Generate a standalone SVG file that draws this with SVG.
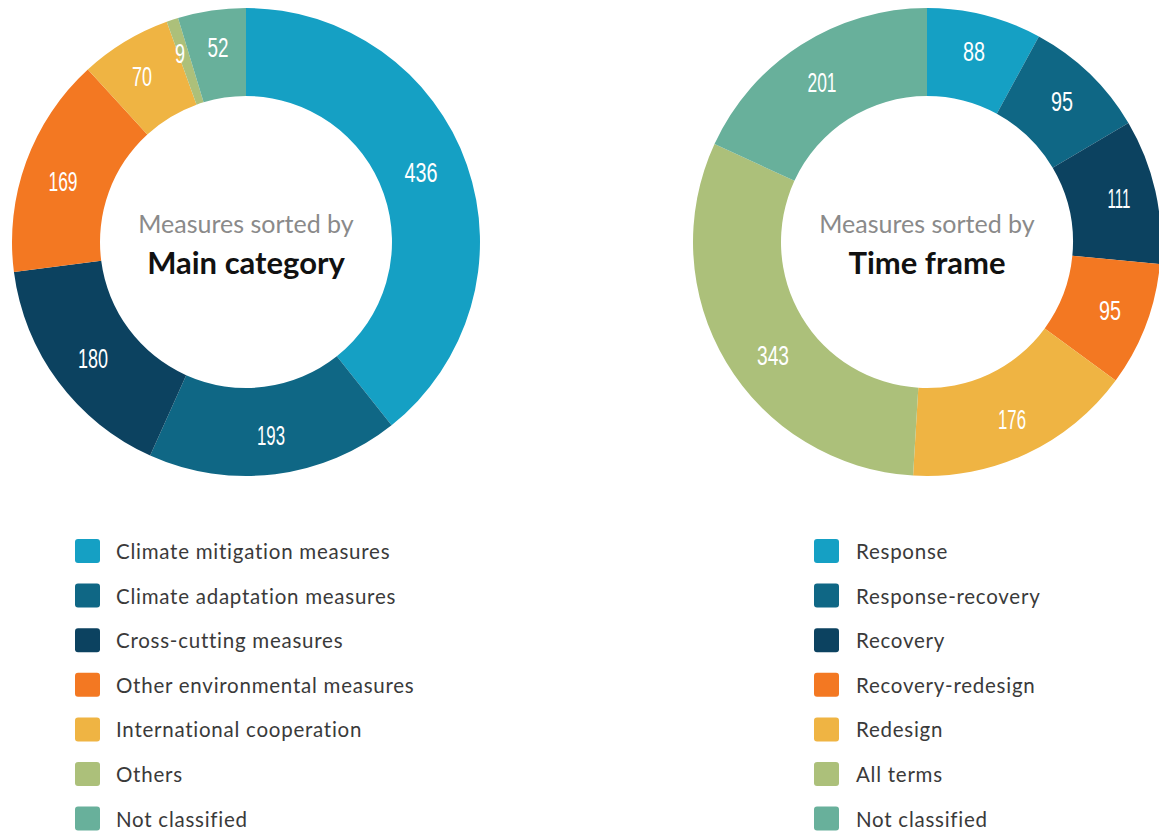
<svg xmlns="http://www.w3.org/2000/svg" width="1159" height="832" viewBox="0 0 1159 832">
<style>
.c1{fill:#15a0c4}.c2{fill:#0f6785}.c3{fill:#0c4260}.c4{fill:#f37822}.c5{fill:#efb443}.c6{fill:#acc07a}.c7{fill:#68b09b}
.v{font-family:"Liberation Sans",Arial,sans-serif;font-size:28px;fill:#ffffff;text-anchor:middle}
.sub{font-family:Lato,"Noto Sans",sans-serif;font-size:25px;fill:#8a8a8a;text-anchor:middle}
.ttl{font-family:Lato,"Noto Sans",sans-serif;font-size:31px;font-weight:700;fill:#111111;text-anchor:middle}
.lg{font-family:Lato,"Noto Sans",sans-serif;font-size:20.5px;letter-spacing:0.75px;fill:#3a3a3a}
</style>
<rect width="1159" height="832" fill="#ffffff"/>
<g id="chart-main-category">
<path class="c1" d="M246,8 A234,234 0 0 1 391.56,425.21 L336.82,356.31 A146,146 0 0 0 246,96 Z"/>
<path class="c2" d="M391.56,425.21 A234,234 0 0 1 150.14,455.46 L186.19,375.19 A146,146 0 0 0 336.82,356.31 Z"/>
<path class="c3" d="M150.14,455.46 A234,234 0 0 1 13.94,272.08 L101.21,260.77 A146,146 0 0 0 186.19,375.19 Z"/>
<path class="c4" d="M13.94,272.08 A234,234 0 0 1 87.83,69.54 L147.31,134.40 A146,146 0 0 0 101.21,260.77 Z"/>
<path class="c5" d="M87.83,69.54 A234,234 0 0 1 166.73,21.84 L196.54,104.63 A146,146 0 0 0 147.31,134.40 Z"/>
<path class="c6" d="M166.73,21.84 A234,234 0 0 1 178.05,18.08 L203.61,102.29 A146,146 0 0 0 196.54,104.63 Z"/>
<path class="c7" d="M178.05,18.08 A234,234 0 0 1 246,8 L246,96 A146,146 0 0 0 203.61,102.29 Z"/>
<text class="v" x="421" y="182" textLength="33" lengthAdjust="spacingAndGlyphs">436</text>
<text class="v" x="271" y="445" textLength="28" lengthAdjust="spacingAndGlyphs">193</text>
<text class="v" x="93" y="368" textLength="30" lengthAdjust="spacingAndGlyphs">180</text>
<text class="v" x="63" y="191" textLength="29" lengthAdjust="spacingAndGlyphs">169</text>
<text class="v" x="142" y="86" textLength="20" lengthAdjust="spacingAndGlyphs">70</text>
<text class="v" x="180" y="63" textLength="10" lengthAdjust="spacingAndGlyphs">9</text>
<text class="v" x="218" y="57" textLength="21" lengthAdjust="spacingAndGlyphs">52</text>
<text class="sub" x="246" y="233">Measures sorted by</text>
<text class="ttl" x="246" y="274">Main category</text>
</g>
<g id="chart-time-frame">
<path class="c1" d="M927,8 A234,234 0 0 1 1038.89,36.49 L996.81,113.77 A146,146 0 0 0 927,96 Z"/>
<path class="c2" d="M1038.89,36.49 A234,234 0 0 1 1128.44,122.90 L1052.68,167.69 A146,146 0 0 0 996.81,113.77 Z"/>
<path class="c3" d="M1128.44,122.90 A234,234 0 0 1 1159.95,264.18 L1072.34,255.84 A146,146 0 0 0 1052.68,167.69 Z"/>
<path class="c4" d="M1159.95,264.18 A234,234 0 0 1 1115.65,380.46 L1044.70,328.39 A146,146 0 0 0 1072.34,255.84 Z"/>
<path class="c5" d="M1115.65,380.46 A234,234 0 0 1 913.09,475.59 L918.32,387.74 A146,146 0 0 0 1044.70,328.39 Z"/>
<path class="c6" d="M913.09,475.59 A234,234 0 0 1 714.50,144.02 L794.41,180.87 A146,146 0 0 0 918.32,387.74 Z"/>
<path class="c7" d="M714.50,144.02 A234,234 0 0 1 927,8 L927,96 A146,146 0 0 0 794.41,180.87 Z"/>
<text class="v" x="974" y="61" textLength="22" lengthAdjust="spacingAndGlyphs">88</text>
<text class="v" x="1062" y="111" textLength="22" lengthAdjust="spacingAndGlyphs">95</text>
<text class="v" x="1119" y="208" textLength="23" lengthAdjust="spacingAndGlyphs">111</text>
<text class="v" x="1110" y="320" textLength="22" lengthAdjust="spacingAndGlyphs">95</text>
<text class="v" x="1012" y="429" textLength="28" lengthAdjust="spacingAndGlyphs">176</text>
<text class="v" x="773" y="365" textLength="32" lengthAdjust="spacingAndGlyphs">343</text>
<text class="v" x="822" y="92" textLength="29" lengthAdjust="spacingAndGlyphs">201</text>
<text class="sub" x="927" y="233">Measures sorted by</text>
<text class="ttl" x="927" y="274">Time frame</text>
</g>
<g id="legend-main-category">
<rect class="c1" x="75" y="539" width="25" height="24" rx="3"/><text class="lg" x="116" y="559">Climate mitigation measures</text>
<rect class="c2" x="75" y="583.6" width="25" height="24" rx="3"/><text class="lg" x="116" y="603.6">Climate adaptation measures</text>
<rect class="c3" x="75" y="628.2" width="25" height="24" rx="3"/><text class="lg" x="116" y="648.2">Cross-cutting measures</text>
<rect class="c4" x="75" y="672.8" width="25" height="24" rx="3"/><text class="lg" x="116" y="692.8">Other environmental measures</text>
<rect class="c5" x="75" y="717.4" width="25" height="24" rx="3"/><text class="lg" x="116" y="737.4">International cooperation</text>
<rect class="c6" x="75" y="762" width="25" height="24" rx="3"/><text class="lg" x="116" y="782">Others</text>
<rect class="c7" x="75" y="806.6" width="25" height="24" rx="3"/><text class="lg" x="116" y="826.6">Not classified</text>
</g>
<g id="legend-time-frame">
<rect class="c1" x="814" y="539" width="25" height="24" rx="3"/><text class="lg" x="856" y="559">Response</text>
<rect class="c2" x="814" y="583.6" width="25" height="24" rx="3"/><text class="lg" x="856" y="603.6">Response-recovery</text>
<rect class="c3" x="814" y="628.2" width="25" height="24" rx="3"/><text class="lg" x="856" y="648.2">Recovery</text>
<rect class="c4" x="814" y="672.8" width="25" height="24" rx="3"/><text class="lg" x="856" y="692.8">Recovery-redesign</text>
<rect class="c5" x="814" y="717.4" width="25" height="24" rx="3"/><text class="lg" x="856" y="737.4">Redesign</text>
<rect class="c6" x="814" y="762" width="25" height="24" rx="3"/><text class="lg" x="856" y="782">All terms</text>
<rect class="c7" x="814" y="806.6" width="25" height="24" rx="3"/><text class="lg" x="856" y="826.6">Not classified</text>
</g>
<g id="connectors"/>
</svg>
